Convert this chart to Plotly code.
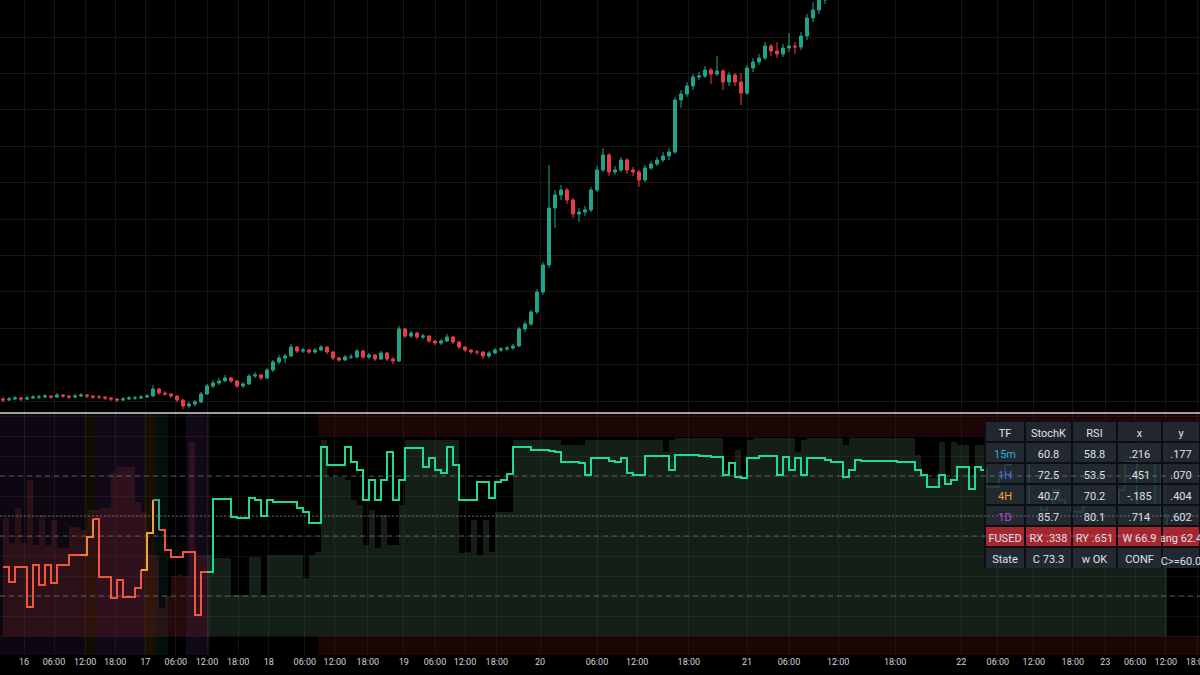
import plotly.graph_objects as go
from plotly.subplots import make_subplots

# ---- velas (x = indice de barra) ----
opens = [1.13, 1.12, 1.13, 1.14, 1.13, 1.14, 1.15, 1.15, 1.16, 1.15,
         1.17, 1.16, 1.15, 1.16, 1.17, 1.16, 1.15, 1.15, 1.14, 1.13,
         1.12, 1.13, 1.14, 1.14, 1.15, 1.16, 1.23, 1.19, 1.18, 1.16,
         1.12, 1.06, 1.08, 1.10, 1.18, 1.26, 1.29, 1.31, 1.34, 1.31,
         1.26, 1.28, 1.36, 1.37, 1.34, 1.42, 1.50, 1.54, 1.56, 1.65,
         1.61, 1.62, 1.60, 1.62, 1.65, 1.60, 1.54, 1.52, 1.55, 1.55,
         1.61, 1.55, 1.57, 1.53, 1.59, 1.53, 1.51, 1.83, 1.76, 1.79,
         1.75, 1.76, 1.71, 1.69, 1.71, 1.75, 1.70, 1.65, 1.62, 1.60,
         1.60, 1.56, 1.59, 1.62, 1.63, 1.64, 1.66, 1.83, 1.88, 2.00,
         2.20, 2.47, 3.04, 3.17, 3.22, 3.12, 2.98, 3.00, 3.02, 3.22,
         3.42, 3.57, 3.40, 3.42, 3.52, 3.42, 3.40, 3.32, 3.44, 3.48,
         3.52, 3.56, 3.60, 4.12, 4.18, 4.26, 4.35, 4.36, 4.42, 4.38,
         4.41, 4.30, 4.37, 4.30, 4.19, 4.44, 4.50, 4.54, 4.66, 4.61,
         4.58, 4.64, 4.66, 4.65, 4.76, 4.94, 5.02, 5.12, 5.22]
highs = [1.15, 1.15, 1.16, 1.15, 1.16, 1.17, 1.17, 1.18, 1.17, 1.19,
         1.18, 1.17, 1.18, 1.19, 1.18, 1.17, 1.17, 1.16, 1.15, 1.14,
         1.15, 1.16, 1.16, 1.17, 1.18, 1.27, 1.24, 1.21, 1.19, 1.17,
         1.13, 1.10, 1.12, 1.20, 1.28, 1.32, 1.34, 1.37, 1.35, 1.32,
         1.30, 1.38, 1.40, 1.38, 1.44, 1.52, 1.57, 1.58, 1.68, 1.66,
         1.64, 1.63, 1.64, 1.67, 1.66, 1.61, 1.55, 1.57, 1.58, 1.63,
         1.62, 1.59, 1.58, 1.61, 1.60, 1.55, 1.86, 1.84, 1.81, 1.80,
         1.78, 1.77, 1.72, 1.73, 1.78, 1.76, 1.71, 1.66, 1.63, 1.62,
         1.61, 1.61, 1.64, 1.65, 1.66, 1.68, 1.85, 1.91, 2.02, 2.23,
         2.50, 3.47, 3.22, 3.27, 3.24, 3.14, 3.04, 3.06, 3.25, 3.46,
         3.64, 3.59, 3.46, 3.55, 3.54, 3.45, 3.42, 3.47, 3.51, 3.55,
         3.60, 3.64, 4.15, 4.22, 4.30, 4.38, 4.40, 4.46, 4.44, 4.56,
         4.43, 4.40, 4.39, 4.39, 4.47, 4.54, 4.58, 4.70, 4.68, 4.70,
         4.68, 4.79, 4.70, 4.80, 4.98, 5.10, 5.18, 5.30, 5.42]
lows = [1.10, 1.11, 1.12, 1.11, 1.12, 1.13, 1.13, 1.14, 1.13, 1.14,
        1.14, 1.13, 1.14, 1.15, 1.14, 1.13, 1.13, 1.12, 1.11, 1.10,
        1.11, 1.12, 1.12, 1.13, 1.14, 1.15, 1.17, 1.16, 1.14, 1.10,
        1.03, 1.04, 1.06, 1.09, 1.17, 1.24, 1.27, 1.30, 1.29, 1.24,
        1.24, 1.27, 1.34, 1.32, 1.33, 1.40, 1.48, 1.49, 1.55, 1.59,
        1.59, 1.58, 1.58, 1.61, 1.58, 1.52, 1.50, 1.51, 1.53, 1.54,
        1.53, 1.53, 1.51, 1.52, 1.51, 1.48, 1.50, 1.74, 1.74, 1.73,
        1.73, 1.69, 1.67, 1.67, 1.70, 1.68, 1.63, 1.60, 1.58, 1.57,
        1.53, 1.54, 1.58, 1.60, 1.61, 1.62, 1.65, 1.80, 1.86, 1.98,
        2.17, 2.44, 2.84, 3.12, 3.08, 2.94, 2.90, 2.96, 3.00, 3.20,
        3.40, 3.36, 3.37, 3.40, 3.38, 3.36, 3.25, 3.30, 3.42, 3.46,
        3.50, 3.52, 3.58, 4.04, 4.15, 4.22, 4.32, 4.34, 4.28, 4.36,
        4.22, 4.26, 4.26, 4.07, 4.17, 4.40, 4.47, 4.52, 4.56, 4.54,
        4.55, 4.60, 4.58, 4.62, 4.72, 4.90, 4.98, 5.08, 5.18]
closes = [1.12, 1.13, 1.14, 1.13, 1.14, 1.15, 1.15, 1.16, 1.15, 1.17,
          1.16, 1.15, 1.16, 1.17, 1.16, 1.15, 1.15, 1.14, 1.13, 1.12,
          1.13, 1.14, 1.14, 1.15, 1.16, 1.23, 1.19, 1.18, 1.16, 1.12,
          1.06, 1.08, 1.10, 1.18, 1.26, 1.29, 1.31, 1.34, 1.31, 1.26,
          1.28, 1.36, 1.37, 1.34, 1.42, 1.50, 1.54, 1.56, 1.65, 1.61,
          1.62, 1.60, 1.62, 1.65, 1.60, 1.54, 1.52, 1.55, 1.55, 1.61,
          1.55, 1.57, 1.53, 1.59, 1.53, 1.51, 1.83, 1.76, 1.79, 1.75,
          1.76, 1.71, 1.69, 1.71, 1.75, 1.70, 1.65, 1.62, 1.60, 1.60,
          1.56, 1.59, 1.62, 1.63, 1.64, 1.66, 1.83, 1.88, 2.00, 2.20,
          2.47, 3.04, 3.17, 3.22, 3.12, 2.98, 3.00, 3.02, 3.22, 3.42,
          3.57, 3.40, 3.42, 3.52, 3.42, 3.40, 3.32, 3.44, 3.48, 3.52,
          3.56, 3.60, 4.12, 4.18, 4.26, 4.35, 4.36, 4.42, 4.38, 4.41,
          4.30, 4.37, 4.30, 4.19, 4.44, 4.50, 4.54, 4.66, 4.61, 4.58,
          4.64, 4.66, 4.65, 4.76, 4.94, 5.02, 5.12, 5.22, 5.37]

# ---- indicador: linea fusionada y envolvente de confianza ----
fused_line = [34.5, 27, 34.5, 34.5, 14.5, 35.5, 25.5, 35.5, 26.5, 35.5,
              35.5, 40.5, 40.5, 40.5, 49.5, 58.5, 29.5, 29.5, 19, 28,
              19.5, 19.5, 24, 33, 51.5, 68, 53, 43, 39.5, 39.5,
              42, 42, 10.5, 32, 32, 68.5, 68.5, 68.5, 59.5, 59,
              59, 69, 68, 60, 68, 67, 67, 67, 67, 64,
              62, 56.5, 56.5, 94.5, 85.5, 85.5, 85.5, 94.5, 87, 83,
              68, 78, 68, 78, 92, 68, 78, 94, 94, 94,
              84.5, 89, 83, 81.5, 94.5, 85.5, 68, 68, 68, 77,
              77, 69, 77, 78, 81, 94.5, 94.5, 94.5, 93, 93,
              93, 92.5, 92, 87, 87, 87, 86.5, 80.5, 89, 89,
              89, 87.5, 87, 89, 81.5, 80.5, 80.5, 90, 90, 90,
              90, 83, 90.5, 90.5, 90.5, 90.5, 90, 90, 89.5, 89.5,
              80.5, 86.5, 79.5, 79, 89, 89, 90, 90, 90, 80.5,
              89.5, 83, 89, 80.5, 89, 89, 89, 88, 87, 87,
              79.5, 83, 88, 87.5, 87.5, 87.5, 87.5, 87.5, 87.5, 87,
              87, 87, 83, 80.5, 74.5, 74.5, 80.5, 76, 78, 84.5,
              84.5, 73.5, 84.5, 83, 74.5, 74.5, 80.5, 85.5, 86.5, 86.5,
              86.5, 65.5, 65.5, 63, 65.5, 73, 68, 65.5, 62, 62,
              65.5, 65.5, 65.5, 65.5, 65.5, 65.5, 73, 87, 87, 65.5,
              65.5, 65.5, 86.5, 60.5, 55.5]
conf_env = [59, 46.5, 64, 46.5, 78, 45.5, 60.5, 45.5, 58, 44,
            44, 54.5, 54.5, 53, 63, 63, 64, 64, 81.5, 84.5,
            84.5, 84.5, 67, 62, 40.5, 40.5, 14, 20, 30, 31,
            30, 97, 40.5, 40.5, 40.5, 39, 39, 39, 20.5, 20.5,
            20.5, 39.5, 39.5, 20.5, 40.5, 40.5, 40.5, 40.5, 40.5, 40.5,
            29, 40.5, 42, 98, 79.5, 79.5, 79.5, 78, 68, 65.5,
            45.5, 63, 44, 60.5, 45.5, 45.5, 65.5, 98, 98, 98,
            98, 98, 98, 98, 98, 98, 41.5, 42, 58, 40.5,
            58, 42, 62, 62, 62, 98, 98, 98, 98, 98,
            98, 98, 98, 95.5, 95.5, 95.5, 95.5, 98, 98, 98,
            98, 98, 98, 98, 98, 98, 98, 98, 98, 98,
            92, 98, 99, 99, 99, 99, 99, 99, 99, 99,
            83, 79, 93, 79, 98, 99, 99, 99, 99, 99,
            99, 99, 92, 98, 99, 99, 99, 99, 99, 99,
            95.5, 99, 99, 99, 99, 99, 99, 99, 99, 99,
            99, 99, 90.5, 80.5, 79, 79, 97, 79, 97, 95.5,
            95.5, 80.5, 95.5, 95.5, 88, 95, 97, 98, 98, 98,
            96, 92, 95, 97, 98, 98, 96, 93, 90, 94,
            97, 98, 98, 97, 95, 96, 98, 98, 98, 94,
            92, 96, 98, 90, 86]

# tramos (estado, numero de barras)
line_runs = [("red", 14), ("orange", 2), ("red", 8), ("amber", 2), ("teal", 1),
             ("red", 8), ("green", 160)]
regime_runs = [("bear", 35), ("bull", 160)]
bg_runs = [("purple_dim", 14), ("orange", 2), ("purple", 8), ("amber", 2), ("teal", 2),
           ("none", 3), ("purple", 4), ("none", 165)]
zone_runs = [("none", 53), ("red", 147)]

levels = [80, 50, 20]
conf_level = 60

# ---- eje de tiempo ----
tick_pos = [3.5, 8.5, 13.7, 18.7, 23.7, 28.8, 34.0, 39.2, 44.3, 50.3, 55.3, 60.8,
            66.8, 72.0, 77.0, 82.3, 89.5, 99.0, 105.7, 114.3, 124.0, 131.0, 139.2,
            148.7, 159.7, 165.8, 171.8, 178.3, 183.7, 188.7, 193.8, 199.0]
tick_text = ["16", "06:00", "12:00", "18:00", "17", "06:00", "12:00", "18:00",
             "18", "06:00", "12:00", "18:00", "19", "06:00", "12:00", "18:00",
             "20", "06:00", "12:00", "18:00", "21", "06:00", "12:00", "18:00",
             "22", "06:00", "12:00", "18:00", "23", "06:00", "12:00", "18:00"]

# ---- tabla ----
tf_names = ["15m", "1H", "4H", "1D"]
stoch_k = [60.8, 72.5, 40.7, 85.7]
rsi_vals = [58.8, 53.5, 70.2, 80.1]
x_vals = [0.216, 0.451, -0.185, 0.714]
y_vals = [0.177, 0.070, 0.404, 0.602]
fused_rx, fused_ry, fused_w, fused_ang = 0.338, 0.651, 66.9, 62.4
state_c, state_min = 73.3, 60.0

N_BARS = 200
NB = "\u00a0"  # espacio que no corta la celda
LINE_COLORS = {"red": "#f2553d", "orange": "#f2813a", "amber": "#f2a33a",
               "teal": "#3aa98a", "green": "#1fdc8d"}
FILL_COLORS = {"bear": "rgba(130,40,45,0.27)", "bull": "rgba(80,130,95,0.24)"}
BG_COLORS = {"none": "rgba(0,0,0,0)", "purple_dim": "rgba(95,55,140,0.12)",
             "purple": "rgba(100,50,140,0.17)", "orange": "rgba(150,110,20,0.11)",
             "amber": "rgba(150,110,20,0.14)", "teal": "rgba(30,100,100,0.14)",
             "red": "rgba(110,20,20,0.25)"}
TF_COLORS = ["#27b3d6", "#3a78f0", "#f2a12f", "#b84fd6"]


def expand(runs):
    out = []
    for name, n in runs:
        out += [name] * n
    return out


def run_slices(runs):
    """Devuelve (nombre, inicio, fin) enlazando cada tramo con la barra anterior."""
    start = 0
    for name, n in runs:
        yield name, max(start - 1, 0), start + n
        start += n


def fmt3(v):
    return f"{v:.3f}".replace("0.", ".")


class FusedPanelChart:
    """Grafico de velas con panel del indicador fusionado y tabla de estado."""

    def __init__(self):
        self.fig = make_subplots(rows=2, cols=1, shared_xaxes=True, vertical_spacing=0)
        self.y2_lo, self.y2_hi = -9.5, 111

    def add_candles(self):
        self.fig.add_trace(go.Candlestick(
            x=list(range(len(closes))), open=opens, high=highs, low=lows, close=closes,
            increasing=dict(line=dict(color="#1fa58b", width=1), fillcolor="#1fa58b"),
            decreasing=dict(line=dict(color="#ec3b4b", width=1), fillcolor="#ec3b4b"),
            whiskerwidth=0, hoverinfo="skip"), row=1, col=1)

    def add_background(self):
        idx = list(range(N_BARS))
        bg = [BG_COLORS[c] for c in expand(bg_runs)]
        zone = [BG_COLORS[c] for c in expand(zone_runs)]
        span = self.y2_hi - self.y2_lo
        self.fig.add_trace(go.Bar(x=idx, y=[span] * N_BARS, base=[self.y2_lo] * N_BARS,
                                  width=1, marker=dict(color=bg, line=dict(width=0)),
                                  hoverinfo="skip"), row=2, col=1)
        self.fig.add_trace(go.Bar(x=idx, y=[self.y2_hi - 100] * N_BARS, base=[100] * N_BARS,
                                  width=1, marker=dict(color=zone, line=dict(width=0)),
                                  hoverinfo="skip"), row=2, col=1)
        self.fig.add_trace(go.Bar(x=idx, y=[-self.y2_lo] * N_BARS, base=[self.y2_lo] * N_BARS,
                                  width=1, marker=dict(color=zone, line=dict(width=0)),
                                  hoverinfo="skip"), row=2, col=1)

    def add_indicator(self):
        for name, a, b in run_slices(regime_runs):
            self.fig.add_trace(go.Scatter(
                x=list(range(a, b)), y=conf_env[a:b], mode="lines", fill="tozeroy",
                fillcolor=FILL_COLORS[name], line=dict(width=0, shape="hv"),
                hoverinfo="skip"), row=2, col=1)
        for lvl in levels:
            self.fig.add_hline(y=lvl, row=2, col=1,
                               line=dict(color="rgba(150,150,150,0.55)", width=1, dash="5px,4px"))
        self.fig.add_hline(y=conf_level, row=2, col=1,
                           line=dict(color="rgba(170,170,170,0.55)", width=1, dash="2px,2px"))
        for name, a, b in run_slices(line_runs):
            self.fig.add_trace(go.Scatter(
                x=list(range(a, b)), y=fused_line[a:b], mode="lines",
                line=dict(color=LINE_COLORS[name], width=2, shape="hv"), hoverinfo="skip"),
                row=2, col=1)

    def add_table(self):
        col0 = tf_names + ["FUSED", "State"]
        col1 = [f"{v:.1f}" for v in stoch_k] + [f"RX{NB}{fmt3(fused_rx)}", f"C{NB}{state_c:.1f}"]
        col2 = [f"{v:.1f}" for v in rsi_vals] + [f"RY{NB}{fmt3(fused_ry)}", f"w{NB}OK"]
        col3 = [fmt3(v) for v in x_vals] + [f"W{NB}{fused_w:.1f}", "CONF"]
        col4 = [fmt3(v) for v in y_vals] + [f"ang{NB}{fused_ang:.1f}", f"C>={state_min:.1f}"]
        base = "rgba(38,43,54,0.88)"
        fused = "rgba(180,40,52,0.92)"
        fills = [[base, base, base, base, fused, base] for _ in range(5)]
        text = "#dfe2e8"
        fonts = [TF_COLORS + [text, text]] + [[text] * 6 for _ in range(4)]
        border = dict(color="rgba(12,14,20,1)", width=1.5)
        self.fig.add_trace(go.Table(
            domain=dict(x=[985 / 1200, 1.0], y=[86 / 655, 234 / 655]),
            columnwidth=[40, 47, 45, 45, 38],
            header=dict(values=["TF", "StochK", "RSI", "x", "y"], fill_color=base,
                        font=dict(color=text, size=11, family="Roboto"),
                        align="center", height=21, line=border),
            cells=dict(values=[col0, col1, col2, col3, col4], fill_color=fills,
                       font=dict(color=fonts, size=11, family="Roboto"),
                       align="center", height=21, line=border)))

    def style(self):
        fig = self.fig
        grid_top = "#161616"
        fig.update_layout(
            width=1200, height=675, template="none",
            margin=dict(l=0, r=0, t=0, b=20),
            paper_bgcolor="#000000", plot_bgcolor="#000000",
            showlegend=False, hovermode=False, barmode="overlay", bargap=0,
            font=dict(family="Roboto", color="#c8cbd2"),
            xaxis_rangeslider_visible=False,
        )
        xcommon = dict(range=[-0.5, N_BARS - 0.5], tickmode="array", tickvals=tick_pos,
                       ticktext=tick_text, showgrid=True, zeroline=False, showline=False,
                       ticks="", automargin=False, tickangle=0)
        fig.update_xaxes(**xcommon, gridcolor=grid_top, showticklabels=False, row=1, col=1)
        fig.update_xaxes(**xcommon, gridcolor="rgba(255,255,255,0.07)", showticklabels=True,
                         ticklabeloverflow="allow",
                         tickfont=dict(size=9, color="#d0d3da", family="Roboto"), row=2, col=1)
        fig.update_yaxes(domain=[243 / 655, 1.0], range=[1.0, 5.12], tick0=1.11, dtick=0.364,
                         showticklabels=False, gridcolor=grid_top, zeroline=False,
                         showline=False, ticks="", automargin=False, row=1, col=1)
        fig.update_yaxes(domain=[0, 241 / 655], range=[self.y2_lo, self.y2_hi], tick0=0,
                         dtick=10, showticklabels=False, gridcolor="rgba(255,255,255,0.06)",
                         zeroline=False, showline=False, ticks="", automargin=False,
                         row=2, col=1)
        # separador entre paneles
        fig.add_shape(type="line", xref="paper", yref="paper", x0=0, x1=1,
                      y0=242 / 655, y1=242 / 655, line=dict(color="#d4d4d4", width=1.5))

    def run(self):
        self.add_background()
        self.add_candles()
        self.add_indicator()
        self.add_table()
        self.style()
        self.fig.write_html(
            "out.html", config={"displayModeBar": False},
            post_script="document.body.style.margin='0';document.body.style.background='#000';")


if __name__ == "__main__":
    FusedPanelChart().run()
